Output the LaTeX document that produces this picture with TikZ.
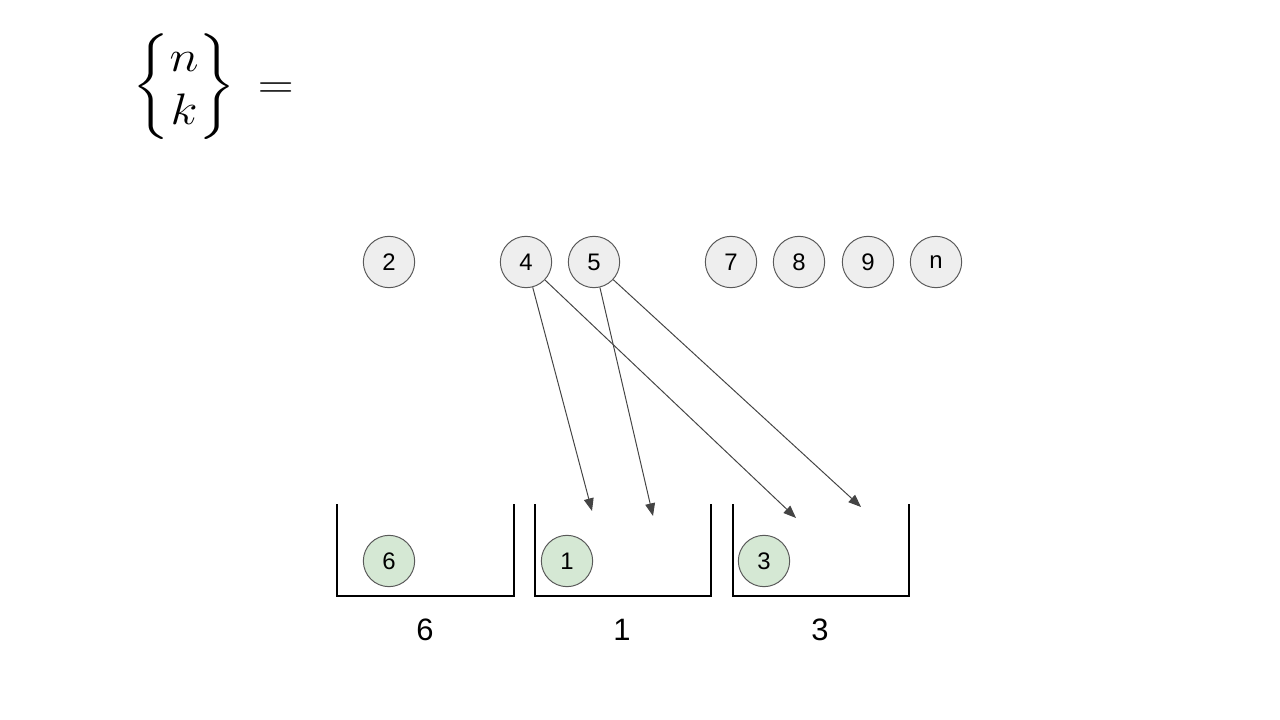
\documentclass[tikz,border=0pt]{standalone}
\usepackage{fontspec}
\setmainfont{Liberation Sans}
\usepackage{amsmath}
\usetikzlibrary{arrows.meta}
\definecolor{ballgray}{HTML}{EEEEEE}
\definecolor{ballgreen}{HTML}{D5E8D4}
\definecolor{rimgray}{HTML}{595959}
\definecolor{arrowgray}{HTML}{444444}

\begin{document}
\begin{tikzpicture}[x=0.025cm,y=-0.025cm,
    ball/.style={circle,draw=rimgray,line width=0.7pt,minimum size=36.5pt,inner sep=0pt,font=\fontsize{17}{20}\selectfont},
    freeball/.style={ball,fill=ballgray},
    placedball/.style={ball,fill=ballgreen},
    bin/.style={line width=2.1pt},
    move/.style={draw=arrowgray,line width=0.7pt,-{Triangle[length=9pt,width=7pt]}},
    binlabel/.style={font=\fontsize{22}{26}\selectfont}]
    \useasboundingbox (0,0) rectangle (1280,720);
    % Stirling number on top
    \node (stirling) at (213,87) {\scalebox{1.42}[1.26]{\fontsize{24.88}{30}\selectfont$\left\{\begin{matrix}n\\k\end{matrix}\right\}\,=$}};
    % Balls still waiting
    \node[freeball] (b2) at (389,262) {2};
    \node[freeball] (b4) at (526,262) {4};
    \node[freeball] (b5) at (594,262) {5};
    \node[freeball] (b7) at (731,262) {7};
    \node[freeball] (b8) at (799,262) {8};
    \node[freeball] (b9) at (868,262) {9};
    \node[freeball] (bn) at (936,262) {n};
    % Three bins, each with its first ball
    \draw[bin] (337,504) |- (514,596) -- (514,504);
    \draw[bin] (535,504) |- (711,596) -- (711,504);
    \draw[bin] (733,504) |- (909,596) -- (909,504);
    \node[placedball] (g6) at (389,561) {6};
    \node[placedball] (g1) at (567,561) {1};
    \node[placedball] (g3) at (764,561) {3};
    \node[binlabel] (l6) at (425,630) {6};
    \node[binlabel] (l1) at (622,630) {1};
    \node[binlabel] (l3) at (820,630) {3};
    % Where balls 4 and 5 may go
    \coordinate (t4a) at (592,511);
    \coordinate (t5a) at (653,516);
    \coordinate (t4b) at (796,518);
    \coordinate (t5b) at (861,507);
    \draw[move] (b4) -- (t4a);
    \draw[move] (b4) -- (t4b);
    \draw[move] (b5) -- (t5a);
    \draw[move] (b5) -- (t5b);
  \end{tikzpicture}
\end{document}
